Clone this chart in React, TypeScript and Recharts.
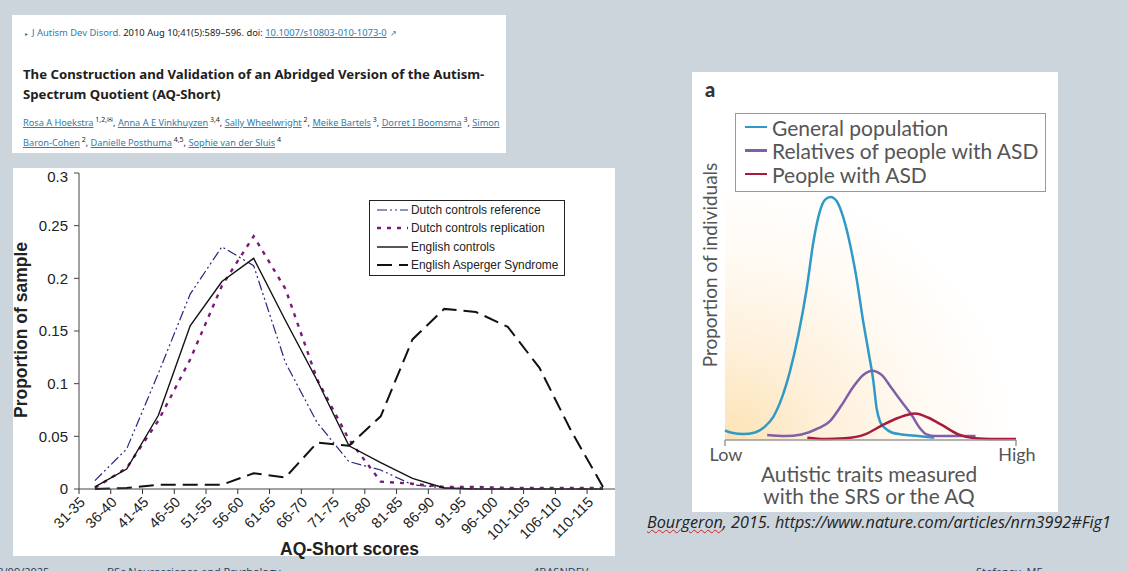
import { LineChart, Line, XAxis, YAxis, ReferenceArea } from "recharts";

const SCORE_BANDS = [
  "31-35", "36-40", "41-45", "46-50", "51-55", "56-60", "61-65", "66-70", "71-75",
  "76-80", "81-85", "86-90", "91-95", "96-100", "101-105", "106-110", "110-115",
];
const dutchReference = [0.008, 0.038, 0.11, 0.185, 0.23, 0.212, 0.12, 0.063, 0.026, 0.018, 0.004, 0.001, 0, 0, 0, 0, 0];
const dutchReplication = [0.001, 0.02, 0.065, 0.123, 0.193, 0.24, 0.19, 0.104, 0.047, 0.007, 0.005, 0.002, 0.002, 0.001, 0.001, 0.001, 0.001];
const englishControls = [0.002, 0.019, 0.07, 0.155, 0.197, 0.219, 0.16, 0.103, 0.041, 0.025, 0.01, 0.001, 0, 0, 0, 0, 0];
const englishAsperger = [0, 0.001, 0.004, 0.004, 0.004, 0.015, 0.011, 0.044, 0.041, 0.069, 0.142, 0.171, 0.168, 0.154, 0.115, 0.055, 0.002];
const PROPORTION_TICKS = [0, 0.05, 0.1, 0.15, 0.2, 0.25, 0.3];

const generalPopulation = [
  [0, 2.9], [2.3, 2.2], [6.3, 1.8], [10.3, 2.3], [13.7, 4.1], [16.6, 7.1], [19.5, 12.8], [22.3, 20.9],
  [25.2, 32.1], [28.1, 46.4], [30.4, 60.7], [32.6, 69.9], [34.4, 73.5], [36.3, 74.3], [38.4, 73],
  [40.7, 67.9], [43, 59.7], [45.2, 49.5], [47.5, 36.2], [49.3, 27], [51, 17.9], [52.1, 9.7], [53.3, 5.6],
  [55, 3.6], [57.3, 2.3], [60.7, 1.7], [66.4, 1.2], [71.9, 0.7],
];
const relatives = [
  [14.5, 1.5], [20.6, 1.2], [26.3, 1.7], [32.1, 3.6], [36.1, 5.8], [40.1, 10.7], [44.1, 16.3], [47.5, 19.9],
  [50.6, 21.2], [53.8, 19.9], [57.3, 15.8], [60.7, 11.7], [64.1, 7.7], [67, 3.6], [69.3, 1.7], [72.2, 1.2],
  [77.9, 1.2], [86.1, 1.2],
];
const peopleWithAsd = [
  [28.3, 0.7], [34.4, 0.3], [41.2, 0.5], [48.1, 1.7], [53.8, 4.4], [59.6, 6.8], [65.3, 8.1], [69.9, 6.8],
  [74.5, 4.6], [80.2, 1.7], [85.9, 0.5], [91.6, 0.3], [100, 0.3],
];

const aqData = SCORE_BANDS.map((band, i) => ({
  band,
  reference: dutchReference[i],
  replication: dutchReplication[i],
  controls: englishControls[i],
  asperger: englishAsperger[i],
}));
const toPoints = (rows: number[][]) => rows.map(([trait, share]) => ({ trait, share }));

const ARIAL = "'Liberation Sans', Arial, sans-serif";
const NATURE = "Lato, 'Open Sans', sans-serif";
const HALF_BAND = 15.9;

const AQ_SERIES = [
  { key: "reference", label: "Dutch controls reference", color: "#26267e", width: 1.2, dash: "10 3 2 3 2 3" },
  { key: "replication", label: "Dutch controls replication", color: "#7b1a7b", width: 2.4, dash: "4 6" },
  { key: "controls", label: "English controls", color: "#111111", width: 1.4, dash: undefined },
  { key: "asperger", label: "English Asperger Syndrome", color: "#111111", width: 2, dash: "15 7" },
];
const TRAIT_SERIES = [
  { label: "General population", color: "#2f9ac6", rows: generalPopulation },
  { label: "Relatives of people with ASD", color: "#7f5fa8", rows: relatives },
  { label: "People with ASD", color: "#a81c3a", rows: peopleWithAsd },
];

// labels and tick marks sit on the band edges, half a band left of the points
const BandTick = ({ x, y, payload }: any) => {
  const edge = x - HALF_BAND;
  return (
    <g>
      <line x1={edge} x2={edge} y1={y - 8} y2={y - 3} stroke="#333" />
      <text
        x={edge + 7}
        y={y + 6}
        textAnchor="end"
        fontSize={14.5}
        fontFamily={ARIAL}
        fill="#222"
        transform={`rotate(-45 ${edge + 7} ${y + 6})`}
      >
        {payload.value}
      </text>
    </g>
  );
};

const Plain = ({ left, top, style, children }: any) => (
  <div style={{ position: "absolute", left, top, whiteSpace: "nowrap", ...style }}>{children}</div>
);

const AUTHORS: [string, string][] = [
  ["Rosa A Hoekstra", "1,2,✉"],
  ["Anna A E Vinkhuyzen", "3,4"],
  ["Sally Wheelwright", "2"],
  ["Meike Bartels", "3"],
  ["Dorret I Boomsma", "3"],
];
const AUTHORS_2: [string, string][] = [
  ["Baron-Cohen", "2"],
  ["Danielle Posthuma", "4,5"],
  ["Sophie van der Sluis", "4"],
];
const LINK = "#2f7dab";

const Author = ({ name, sup, last }: { name: string; sup: string; last?: boolean }) => (
  <span>
    <span style={{ color: LINK, textDecoration: "underline" }}>{name}</span>
    <sup style={{ fontSize: 7, lineHeight: 0 }}> {sup}</sup>
    {last ? "" : ", "}
  </span>
);

const Paper = () => (
  <div style={{ position: "absolute", left: 12, top: 15, width: 494, height: 138, background: "#fff", fontFamily: "'Noto Sans', sans-serif", color: "#222" }}>
    <Plain left={13} top={11} style={{ fontSize: 9.4 }}>
      <span style={{ color: LINK, fontSize: 6, marginRight: 4 }}>▸</span>
      <span style={{ color: LINK }}>J Autism Dev Disord.</span> 2010 Aug 10;41(5):589–596. doi:{" "}
      <span style={{ color: LINK, textDecoration: "underline" }}>10.1007/s10803-010-1073-0</span>
      <span style={{ color: LINK, fontSize: 8, marginLeft: 3 }}>↗</span>
    </Plain>
    <Plain left={11} top={49} style={{ fontSize: 13.2, fontWeight: 700, color: "#212121", lineHeight: "20px" }}>
      The Construction and Validation of an Abridged Version of the Autism-
      <br />
      Spectrum Quotient (AQ-Short)
    </Plain>
    <Plain left={11} top={101} style={{ fontSize: 9.2 }}>
      {AUTHORS.map(([n, s]) => <Author key={n} name={n} sup={s} />)}
      <span style={{ color: LINK, textDecoration: "underline" }}>Simon</span>
    </Plain>
    <Plain left={11} top={121} style={{ fontSize: 9.2 }}>
      {AUTHORS_2.map(([n, s], i) => <Author key={n} name={n} sup={s} last={i === AUTHORS_2.length - 1} />)}
    </Plain>
  </div>
);

const AqChart = () => (
  <div style={{ position: "absolute", left: 13, top: 168, width: 602, height: 388, background: "#fff" }}>
    <LineChart width={602} height={388} data={aqData} margin={{ top: 5, right: 0, bottom: 0, left: 0 }}>
      <XAxis
        dataKey="band"
        interval={0}
        height={67}
        padding={{ left: HALF_BAND, right: 12 }}
        axisLine={{ stroke: "#444" }}
        tickLine={false}
        tick={<BandTick />}
      />
      <YAxis
        width={66}
        domain={[0, 0.3]}
        ticks={PROPORTION_TICKS}
        tickFormatter={(v: number) => String(v)}
        axisLine={{ stroke: "#444" }}
        tickLine={{ stroke: "#444" }}
        tickSize={5}
        tickMargin={6}
        tick={{ fontSize: 15, fontFamily: ARIAL, fill: "#222" }}
      />
      {AQ_SERIES.map((s) => (
        <Line
          key={s.key}
          dataKey={s.key}
          type="linear"
          stroke={s.color}
          strokeWidth={s.width}
          strokeDasharray={s.dash}
          dot={false}
          isAnimationActive={false}
        />
      ))}
    </LineChart>
    <Plain left={267} top={374} style={{ fontSize: 17.5, lineHeight: "14px", fontWeight: 700, fontFamily: ARIAL, color: "#222" }}>AQ-Short scores</Plain>
    <Plain
      left={8}
      top={162}
      style={{ fontSize: 17.5, fontWeight: 700, fontFamily: ARIAL, color: "#222", transform: "translate(-50%, -50%) rotate(-90deg)" }}
    >
      Proportion of sample
    </Plain>
    <div style={{ position: "absolute", left: 356, top: 32, width: 196, height: 76, border: "1.5px solid #222", boxSizing: "border-box", fontFamily: ARIAL, fontSize: 11.9, color: "#222" }}>
      {AQ_SERIES.map((s, i) => (
        <div key={s.key} style={{ position: "absolute", left: 6, top: 0 + i * 18.4, height: 18, display: "flex", alignItems: "center" }}>
          <svg width={33} height={6} style={{ marginRight: 2 }}>
            <line x1={1} x2={32} y1={3} y2={3} stroke={s.color} strokeWidth={s.width} strokeDasharray={s.dash} />
          </svg>
          <span>{s.label}</span>
        </div>
      ))}
    </div>
  </div>
);

const TraitTick = ({ x, y, payload }: any) => (
  <g>
    <line x1={x} x2={x} y1={y - 8} y2={y - 2} stroke="#999" strokeWidth={1.5} />
    <text x={x + 1} y={y + 13} textAnchor="middle" fontSize={18} fontFamily={NATURE} fill="#555">
      {payload.value === 0 ? "Low" : "High"}
    </text>
  </g>
);

const TraitChart = () => (
  <div style={{ position: "absolute", left: 692, top: 72, width: 366, height: 440, background: "#fff" }}>
    <LineChart width={366} height={440} margin={{ top: 41, right: 42, bottom: 0, left: 33 }}>
      <defs>
        <radialGradient id="traitGlow" cx="0" cy="1" r="1">
          <stop offset="0%" stopColor="#fde2b4" />
          <stop offset="35%" stopColor="#fef0da" />
          <stop offset="70%" stopColor="#fffaf3" />
          <stop offset="100%" stopColor="#ffffff" />
        </radialGradient>
      </defs>
      <XAxis
        type="number"
        dataKey="trait"
        domain={[0, 100]}
        ticks={[0, 100]}
        height={72}
        axisLine={{ stroke: "#999", strokeWidth: 1.5 }}
        tickLine={false}
        tick={<TraitTick />}
      />
      <YAxis width={0} domain={[0, 100]} tick={false} tickLine={false} axisLine={{ stroke: "#999", strokeWidth: 1.5 }} />
      <ReferenceArea x1={0} x2={100} y1={0} y2={80} fill="url(#traitGlow)" fillOpacity={1} stroke="none" />
      {TRAIT_SERIES.map((s) => (
        <Line
          key={s.label}
          data={toPoints(s.rows)}
          dataKey="share"
          type="monotone"
          stroke={s.color}
          strokeWidth={2.5}
          dot={false}
          isAnimationActive={false}
        />
      ))}
    </LineChart>
    <Plain left={13} top={5} style={{ fontSize: 20, fontWeight: 900, fontFamily: NATURE, color: "#333" }}>a</Plain>
    <Plain
      left={17}
      top={193}
      style={{ fontSize: 19, fontFamily: NATURE, color: "#555", transform: "translate(-50%, -50%) rotate(-90deg)" }}
    >
      Proportion of individuals
    </Plain>
    <Plain left={0} top={391} style={{ width: 354, textAlign: "center", fontSize: 20.8, lineHeight: "22px", fontFamily: NATURE, color: "#555" }}>
      Autistic traits measured
      <br />
      with the SRS or the AQ
    </Plain>
    <div style={{ position: "absolute", left: 43, top: 41, width: 311, height: 79, border: "1.5px solid #999", boxSizing: "border-box", background: "#fff", fontFamily: NATURE, fontSize: 21, color: "#555" }}>
      {TRAIT_SERIES.map((s, i) => (
        <div key={s.label} style={{ position: "absolute", left: 9, top: 1 + i * 23.5, height: 24, display: "flex", alignItems: "center" }}>
          <span style={{ width: 22, height: 2.5, background: s.color, marginRight: 5 }} />
          <span>{s.label}</span>
        </div>
      ))}
    </div>
  </div>
);

const FOOT = { fontSize: 11, lineHeight: "14px", fontFamily: "'Open Sans', sans-serif", color: "#1f3a5a" };

export default function App() {
  return (
    <div style={{ position: "fixed", left: 0, top: 0, width: 1127, height: 571, background: "#cdd5dc", overflow: "hidden" }}>
      <Paper />
      <AqChart />
      <TraitChart />
      <Plain
        left={647}
        top={511}
        style={{ fontSize: 16.2, fontStyle: "italic", fontFamily: "'Open Sans', sans-serif", color: "#222" }}
      >
        <span style={{ textDecoration: "underline wavy #d02020 1px" }}>Bourgeron</span>, 2015. https://www.nature.com/articles/nrn3992#Fig1
      </Plain>
      <Plain left={-9} top={565} style={FOOT}>23/09/2025</Plain>
      <Plain left={107} top={565} style={FOOT}>BSc Neuroscience and Psychology</Plain>
      <Plain left={533} top={565} style={FOOT}>4BASNDEV</Plain>
      <Plain left={976} top={565} style={FOOT}>Stefanov, MF</Plain>
    </div>
  );
}
